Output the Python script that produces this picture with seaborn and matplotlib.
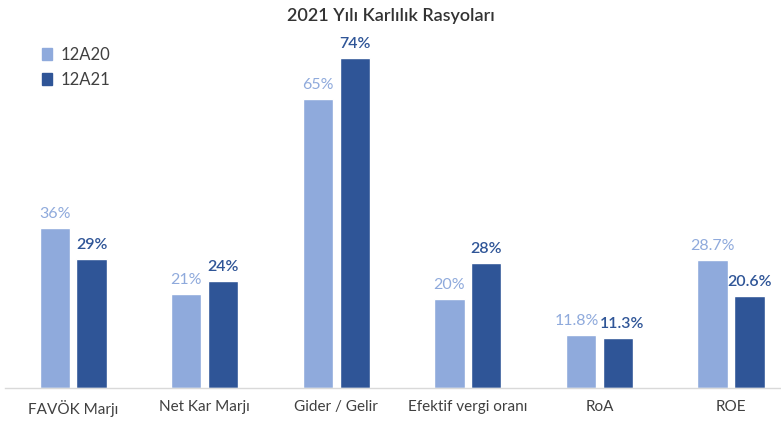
import matplotlib
matplotlib.use("Agg")
import matplotlib.pyplot as plt
import seaborn as sns
import pandas as pd
from matplotlib.patches import Patch

categories = ["FAVÖK Marjı", "Net Kar Marjı", "Gider / Gelir", "Efektif vergi oranı", "RoA", "ROE"]
series_names = ["12A20", "12A21"]
values_12a20 = [36, 21, 65, 20, 11.8, 28.7]
values_12a21 = [29, 24, 74, 28, 11.3, 20.6]
labels_12a20 = ["36%", "21%", "65%", "20%", "11.8%", "28.7%"]
labels_12a21 = ["29%", "24%", "74%", "28%", "11.3%", "20.6%"]
title = "2021 Yılı Karlılık Rasyoları"

light = "#8FAADC"
dark = "#2F5597"

df = pd.DataFrame({
    "cat": categories * 2,
    "series": [series_names[0]] * len(categories) + [series_names[1]] * len(categories),
    "val": values_12a20 + values_12a21,
})

sns.set_theme(style="white")
plt.rcParams["font.family"] = ["Lato", "DejaVu Sans"]

fig = plt.figure(figsize=(7.81, 4.23), dpi=100)
ax = fig.add_axes([0.006, 0.083, 0.994, 0.842])

sns.barplot(data=df, x="cat", y="val", hue="series", palette=[light, dark],
            width=0.56, gap=0.18, ax=ax, legend=False, saturation=1)

for k, (cont, labs, col, wt) in enumerate(zip(ax.containers, [labels_12a20, labels_12a21],
                                               [light, dark], ["normal", "semibold"])):
    texts = ax.bar_label(cont, labels=labs, padding=5, color=col, fontsize=11.5, fontweight=wt)
    # RoA labels crowd each other: nudge them slightly apart
    x0, y0 = texts[4].xyann
    texts[4].xyann = (x0 + (-3 if k == 0 else 3), y0)

ax.set_xlim(-0.52, 5.38)
ax.set_ylim(0, 80)
ax.set_yticks([])
ax.set_xlabel("")
ax.set_ylabel("")
for s in ["top", "right", "left"]:
    ax.spines[s].set_visible(False)
ax.spines["bottom"].set_color("#D9D9D9")
ax.spines["bottom"].set_linewidth(1)
ax.tick_params(axis="x", length=0, pad=9, labelsize=11, labelcolor="#404040")

fig.text(0.5, 0.962, title, ha="center", va="center", fontsize=13, color="#333333", fontweight="semibold")

handles = [Patch(color=light), Patch(color=dark)]
fig.legend(handles, series_names, loc="upper left", bbox_to_anchor=(0.035, 0.925),
           frameon=False, fontsize=12, handlelength=0.6, handleheight=0.7,
           handletextpad=0.5, labelspacing=0.55, labelcolor="#404040")

fig.savefig("out.png", dpi=100)
